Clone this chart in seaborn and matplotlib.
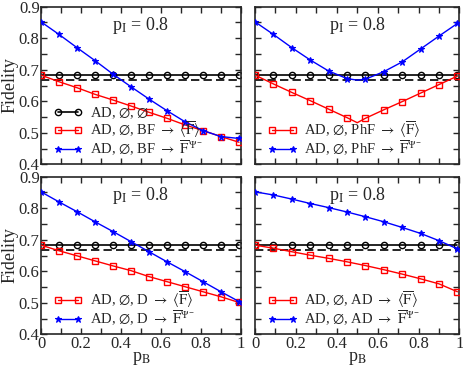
import matplotlib
matplotlib.use('Agg')
import matplotlib.pyplot as plt
import seaborn as sns
from matplotlib.ticker import MultipleLocator

# p_B values where markers sit
p_b = [0, 0.09, 0.18, 0.27, 0.36, 0.45, 0.54, 0.63, 0.72, 0.81, 0.90, 0.99]
# PhF curves have a kink at 0.5 (no marker there)
p_b_phf = [0, 0.09, 0.18, 0.27, 0.36, 0.45, 0.5, 0.54, 0.63, 0.72, 0.81, 0.90, 0.99]

f_none = [0.684] * 12
f_classical = 2 / 3

# BF
bf_avg = [0.683, 0.662, 0.643, 0.622, 0.604, 0.585, 0.565, 0.546, 0.525, 0.507, 0.488, 0.470]
bf_psi = [0.852, 0.812, 0.770, 0.729, 0.686, 0.646, 0.607, 0.570, 0.535, 0.507, 0.488, 0.482]
# PhF
phf_avg = [0.683, 0.655, 0.628, 0.602, 0.575, 0.548, 0.532, 0.546, 0.573, 0.599, 0.626, 0.653, 0.680]
phf_psi = [0.852, 0.812, 0.770, 0.731, 0.696, 0.672, 0.667, 0.670, 0.694, 0.725, 0.766, 0.807, 0.847]
# D
d_avg = [0.683, 0.665, 0.649, 0.633, 0.617, 0.602, 0.583, 0.567, 0.551, 0.535, 0.519, 0.501]
d_psi = [0.852, 0.820, 0.789, 0.757, 0.726, 0.694, 0.662, 0.630, 0.599, 0.567, 0.535, 0.504]
# AD
ad_avg = [0.683, 0.673, 0.662, 0.651, 0.641, 0.630, 0.618, 0.605, 0.591, 0.576, 0.560, 0.535]
ad_psi = [0.852, 0.842, 0.829, 0.815, 0.802, 0.788, 0.773, 0.757, 0.739, 0.720, 0.697, 0.671]

channels = ['BF', 'PhF', 'D', 'AD']

sns.set_style('ticks')
plt.rcParams['font.family'] = ['Liberation Serif', 'DejaVu Serif']
plt.rcParams['mathtext.fontset'] = 'stix'
plt.rcParams['font.size'] = 11

fig = plt.figure(figsize=(4.63, 3.67), dpi=100)
boxes = [
    [0.0886, 0.5523, 0.4319, 0.4294],
    [0.5508, 0.5523, 0.4416, 0.4294],
    [0.0886, 0.0891, 0.4319, 0.4294],
    [0.5508, 0.0891, 0.4416, 0.4294],
]

red = '#ff0000'
blue = '#0000ff'

for i, ch in enumerate(channels):
    ax = fig.add_axes(boxes[i])
    if ch == 'BF':
        xs, avg, psi, mk = p_b, bf_avg, bf_psi, None
    elif ch == 'PhF':
        xs, avg, psi, mk = p_b_phf, phf_avg, phf_psi, [0, 1, 2, 3, 4, 5, 7, 8, 9, 10, 11, 12]
    elif ch == 'D':
        xs, avg, psi, mk = p_b, d_avg, d_psi, None
    else:
        xs, avg, psi, mk = p_b, ad_avg, ad_psi, None

    ax.axhline(f_classical, color='black', lw=1.2, ls=(0, (5, 2.5)), zorder=1)
    sns.lineplot(x=p_b, y=f_none, ax=ax, color='black', marker='o', markersize=4.5,
                 markerfacecolor='none', markeredgecolor='black', markeredgewidth=1,
                 lw=1.2, label=r'AD, $\varnothing$, $\varnothing$' if ch == 'BF' else None,
                 zorder=2)
    sns.lineplot(x=xs, y=avg, ax=ax, color=red, marker='s', markersize=4.5,
                 markerfacecolor='none', markeredgecolor=red, markeredgewidth=1,
                 lw=1, markevery=mk, zorder=3,
                 label='AD, $\\varnothing$, ' + ch + r' $\rightarrow$ $\langle\overline{\rm F}\rangle$')
    sns.lineplot(x=xs, y=psi, ax=ax, color=blue, marker='*', markersize=5,
                 markerfacecolor=blue, markeredgecolor=blue, markeredgewidth=0.8,
                 lw=1, markevery=mk, zorder=4,
                 label='AD, $\\varnothing$, ' + ch + r' $\rightarrow$ $\overline{\rm F}^{\Psi^{-}}$')

    ax.set_xlim(0, 1)
    ax.set_ylim(0.4, 0.9)
    ax.xaxis.set_major_locator(MultipleLocator(0.2))
    ax.xaxis.set_minor_locator(MultipleLocator(0.1))
    ax.yaxis.set_major_locator(MultipleLocator(0.1))
    ax.yaxis.set_minor_locator(MultipleLocator(0.05))
    ax.tick_params(which='both', direction='in', top=True, right=True, width=1)
    ax.tick_params(which='major', length=4, labelsize=12)
    ax.tick_params(which='minor', length=4)
    for s in ax.spines.values():
        s.set_linewidth(1.2)

    if i in (0, 2):
        ax.set_ylabel('Fidelity', fontsize=13, labelpad=0)
        ax.set_yticks([0.4, 0.5, 0.6, 0.7, 0.8, 0.9])
        ax.set_yticklabels(['0.4', '0.5', '0.6', '0.7', '0.8', '0.9'])
    else:
        ax.set_ylabel('')
        ax.tick_params(labelleft=False)
    if i in (2, 3):
        ax.set_xlabel(r'p$_{\rm B}$', fontsize=13, labelpad=-1)
        ax.set_xticks([0, 0.2, 0.4, 0.6, 0.8, 1.0])
        ax.set_xticklabels(['0', '0.2', '0.4', '0.6', '0.8', '1'])
    else:
        ax.set_xlabel('')
        ax.tick_params(labelbottom=False)
    ax.tick_params(axis='x', pad=1)
    ax.tick_params(axis='y', pad=1)

    ax.text(0.5, 0.88, r'p$_{\rm I}$ = 0.8', transform=ax.transAxes,
            ha='center', va='center', fontsize=13)

    ax.legend(loc='lower left', frameon=False, fontsize=10.5, handlelength=2.0,
              numpoints=2, handletextpad=0.5, labelspacing=-0.1, borderaxespad=0.05,
              bbox_to_anchor=(0.03, 0.0))

fig.savefig('out.png', dpi=100)
